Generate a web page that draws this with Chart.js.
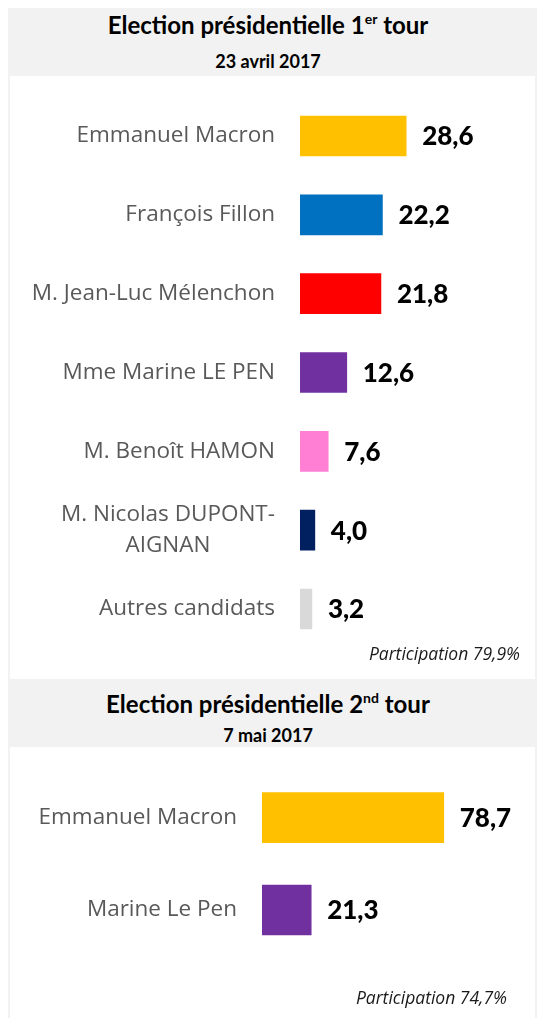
<!DOCTYPE html>
<html lang="fr">
<head>
<meta charset="utf-8">
<title>Election présidentielle 2017</title>
<script src="https://cdn.jsdelivr.net/npm/chart.js@4/dist/chart.umd.min.js"></script>
<style>
  body { margin: 0; background: #fff; width: 537px; height: 1018px; position: relative; overflow: hidden; }
  .edge { position: absolute; width: 2px; background: #f2f2f2; }
  .head { position: absolute; left: 9px; width: 528px; height: 68px; background: #f2f2f2; }
  .ttl, .sub { position: absolute; left: 9px; width: 518px; text-align: center; color: #000;
               font-family: Lato, "Open Sans", sans-serif; font-weight: bold; white-space: nowrap; }
  .ttl { font-size: 24px; line-height: 24px; }
  .ttl sup { font-size: 14px; line-height: 0; position: relative; top: -1px; }
  .sub { font-size: 18px; line-height: 18px; }
  .note { position: absolute; font-family: "Open Sans", sans-serif; font-style: italic; font-size: 17.5px;
          line-height: 16px; color: #1a1a1a; white-space: nowrap; }
  canvas { position: absolute; }
</style>
</head>
<body>
<div class="edge" style="left:8px; top:8px; height:1010px"></div>
<div class="edge" style="left:535px; top:8px; height:1010px"></div>

<div class="head" style="top:8px"></div>
<div class="ttl" style="top:13px">Election présidentielle 1<sup>er</sup> tour</div>
<div class="sub" style="top:52px">23 avril 2017</div>
<div id="wrap1" style="position:absolute; left:10px; top:76px; width:525px; height:603px"><canvas id="tour1"></canvas></div>
<div class="note" style="right:17px; top:645px">Participation 79,9%</div>

<div class="head" style="top:679px"></div>
<div class="ttl" style="top:692px">Election présidentielle 2<sup>nd</sup> tour</div>
<div class="sub" style="top:726px">7 mai 2017</div>
<div id="wrap2" style="position:absolute; left:10px; top:747px; width:525px; height:271px"><canvas id="tour2"></canvas></div>
<div class="note" style="right:30px; top:989px">Participation 74,7%</div>

<script>
// 1er tour - 23 avril 2017
const candidats1 = [
    'Emmanuel Macron',
    'François Fillon',
    'M. Jean-Luc Mélenchon',
    'Mme Marine LE PEN',
    'M. Benoît HAMON',
    ['M. Nicolas DUPONT-', 'AIGNAN'],
    'Autres candidats'
];
const scores1 = [28.6, 22.2, 21.8, 12.6, 7.6, 4.0, 3.2];
const couleurs1 = ['#ffc000', '#0070c0', '#ff0000', '#7030a0', '#ff7fd4', '#002060', '#d9d9d9'];

// 2nd tour - 7 mai 2017
const candidats2 = ['Emmanuel Macron', 'Marine Le Pen'];
const scores2 = [78.7, 21.3];
const couleurs2 = ['#ffc000', '#7030a0'];

// libellés des candidats : bloc aligné à droite, lignes centrées entre elles
const labelsPlugin = {
    id: 'candidatLabels',
    afterDraw(chart, args, opts) {
        const ctx = chart.ctx;
        const yScale = chart.scales.y;
        const right = chart.chartArea.left - opts.gap;
        ctx.save();
        ctx.font = '22.5px "Open Sans", sans-serif';
        ctx.fillStyle = '#595959';
        ctx.textAlign = 'center';
        ctx.textBaseline = 'middle';
        chart.data.labels.forEach((lab, i) => {
            const lines = Array.isArray(lab) ? lab : [lab];
            const w = Math.max(...lines.map(l => ctx.measureText(l).width));
            const cy = yScale.getPixelForValue(i);
            const lh = 31;
            lines.forEach((l, k) => {
                ctx.fillText(l, right - w / 2, cy + (k - (lines.length - 1) / 2) * lh);
            });
        });
        ctx.restore();
    }
};

// valeurs à droite des barres
const valuesPlugin = {
    id: 'valeurs',
    afterDatasetsDraw(chart) {
        const ctx = chart.ctx;
        const meta = chart.getDatasetMeta(0);
        ctx.save();
        ctx.font = '900 26px Lato, sans-serif';
        ctx.fillStyle = '#000';
        ctx.textAlign = 'left';
        ctx.textBaseline = 'middle';
        meta.data.forEach((bar, i) => {
            const v = chart.data.datasets[0].data[i];
            ctx.fillText(v.toFixed(1).replace('.', ','), bar.x + 16, bar.y + 1);
        });
        ctx.restore();
    }
};

function makeChart(id, labels, data, colors, opts) {
    return new Chart(document.getElementById(id), {
        type: 'bar',
        data: {
            labels: labels,
            datasets: [{
                data: data,
                backgroundColor: colors,
                borderWidth: 0,
                barThickness: opts.thickness
            }]
        },
        options: {
            indexAxis: 'y',
            responsive: true,
            maintainAspectRatio: false,
            animation: false,
            layout: {
                padding: { top: opts.padTop, bottom: opts.padBottom, left: 0, right: 0 }
            },
            scales: {
                x: {
                    display: false,
                    min: 0,
                    max: opts.max
                },
                y: {
                    grid: { display: false, drawTicks: false },
                    border: { display: false },
                    ticks: { display: false },
                    afterFit: (scale) => { scale.width = opts.axisWidth; }
                }
            },
            plugins: {
                legend: { display: false },
                tooltip: { enabled: false },
                candidatLabels: { gap: 25 }
            }
        },
        plugins: [labelsPlugin, valuesPlugin]
    });
}

makeChart('tour1', candidats1, scores1, couleurs1,
    { thickness: 40, padTop: 20.6, padBottom: 30.6, max: 63.3, axisWidth: 290 });
makeChart('tour2', candidats2, scores2, couleurs2,
    { thickness: 50, padTop: 24.5, padBottom: 61.8, max: 118.2, axisWidth: 252 });
</script>
</body>
</html>
